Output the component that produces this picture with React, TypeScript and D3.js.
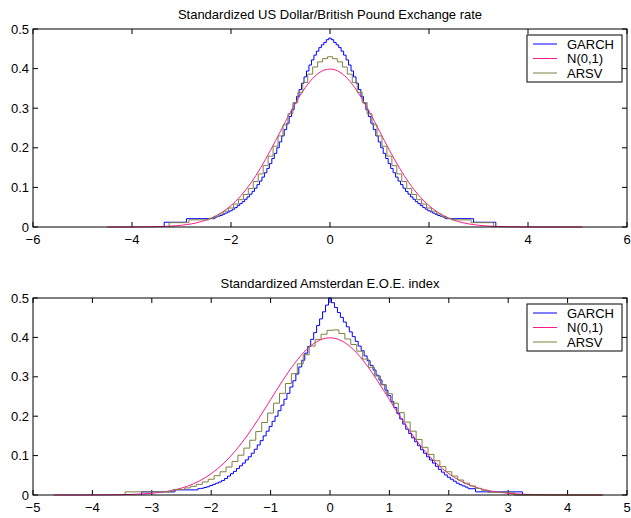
import React from "react";
import * as d3 from "d3";

// ---------- helpers for uniform bin grids ----------
const grid = (a: number, n: number, step = 0.1) =>
  d3.range(n).map((i) => +(a + i * step).toFixed(3));

// ---------- TOP PANEL DATA ----------
const topTitle = "Standardized US Dollar/British Pound Exchange rate";
const topXTicks = [-6, -4, -2, 0, 2, 4, 6];
const topYTicks = [0, 0.1, 0.2, 0.3, 0.4, 0.5];

const topGarchEdges = [-3.35, -2.9, ...grid(-2.325, 94, 0.05), 2.9, 3.35];
const topGarchVals = [
  0.012, 0.021,
  0.025, 0.027, 0.029, 0.032, 0.035, 0.038, 0.041, 0.045, 0.049, 0.054, 0.059, 0.064,
  0.070, 0.076, 0.083, 0.090, 0.098, 0.107, 0.116, 0.126, 0.137, 0.148, 0.160, 0.173,
  0.186, 0.200, 0.215, 0.230, 0.246, 0.262, 0.279, 0.296, 0.313, 0.330, 0.347, 0.363,
  0.379, 0.394, 0.409, 0.422, 0.434, 0.444, 0.453, 0.460, 0.466, 0.473,
  0.477,
  0.473, 0.466, 0.460, 0.453, 0.444, 0.434, 0.422, 0.409, 0.394, 0.379, 0.363, 0.347,
  0.330, 0.313, 0.296, 0.279, 0.262, 0.246, 0.230, 0.215, 0.200, 0.186, 0.173, 0.160,
  0.148, 0.137, 0.126, 0.116, 0.107, 0.098, 0.090, 0.083, 0.076, 0.070, 0.064, 0.059,
  0.054, 0.049, 0.045, 0.041, 0.038, 0.035, 0.032, 0.029, 0.027, 0.025,
  0.021, 0.012,
];

const topArsvEdges = [-3.25, -2.85, ...grid(-2.45, 50), 2.85, 3.3];
const topArsvVals = [
  0.011, 0.018,
  0.022, 0.027, 0.033, 0.040, 0.048, 0.058, 0.069, 0.082, 0.097, 0.115, 0.134, 0.155,
  0.179, 0.204, 0.230, 0.258, 0.286, 0.314, 0.340, 0.365, 0.386, 0.404, 0.417, 0.425,
  0.430,
  0.425, 0.417, 0.404, 0.386, 0.365, 0.340, 0.314, 0.286, 0.258, 0.230, 0.204, 0.179,
  0.155, 0.134, 0.115, 0.097, 0.082, 0.069, 0.058, 0.048, 0.040, 0.033, 0.027, 0.022,
  0.018, 0.011,
];

const normCoreX = grid(-3.0, 61);
const normCoreY = [
  0.0044, 0.0060, 0.0079, 0.0104, 0.0136, 0.0175, 0.0224, 0.0283, 0.0355, 0.0440,
  0.0540, 0.0656, 0.0790, 0.0940, 0.1109, 0.1295, 0.1497, 0.1714, 0.1942, 0.2179,
  0.2420, 0.2661, 0.2897, 0.3123, 0.3332, 0.3521, 0.3683, 0.3814, 0.3910, 0.3970,
  0.3989,
  0.3970, 0.3910, 0.3814, 0.3683, 0.3521, 0.3332, 0.3123, 0.2897, 0.2661, 0.2420,
  0.2179, 0.1942, 0.1714, 0.1497, 0.1295, 0.1109, 0.0940, 0.0790, 0.0656, 0.0540,
  0.0440, 0.0355, 0.0283, 0.0224, 0.0175, 0.0136, 0.0104, 0.0079, 0.0060, 0.0044,
];
const topNormX = [-4.5, -4.0, -3.6, -3.3, ...normCoreX, 3.3, 3.6, 4.0, 4.5, 5.1];
const topNormY = [0, 0.0001, 0.0006, 0.0017, ...normCoreY, 0.0017, 0.0006, 0.0001, 0, 0];

// ---------- BOTTOM PANEL DATA ----------
const botTitle = "Standardized Amsterdan E.O.E. index";
const botXTicks = [-5, -4, -3, -2, -1, 0, 1, 2, 3, 4, 5];
const botYTicks = [0, 0.1, 0.2, 0.3, 0.4, 0.5];

const botGarchEdges = [-3.17, -2.61, ...grid(-2.225, 92, 0.05), 2.45, 3.24];
const botGarchVals = [
  0.008, 0.013,
  0.016, 0.017, 0.019, 0.021, 0.024, 0.027, 0.030, 0.033, 0.037, 0.042, 0.048, 0.054,
  0.060, 0.067, 0.074, 0.081, 0.089, 0.097, 0.106, 0.116, 0.127, 0.138, 0.150, 0.162,
  0.174, 0.187, 0.200, 0.214, 0.228, 0.243, 0.258, 0.274, 0.290, 0.307, 0.325, 0.342,
  0.360, 0.377, 0.395, 0.412, 0.430, 0.447, 0.465, 0.482,
  0.500,
  0.488, 0.476, 0.463, 0.451, 0.439, 0.427, 0.414, 0.402, 0.390, 0.378,
  0.366, 0.353, 0.341, 0.329, 0.317, 0.304, 0.292, 0.280, 0.266, 0.252,
  0.237, 0.222, 0.207, 0.193, 0.180, 0.167, 0.156, 0.145, 0.135, 0.125,
  0.115, 0.106, 0.097, 0.089, 0.081, 0.073, 0.065, 0.058, 0.051, 0.045,
  0.040, 0.035, 0.030, 0.026, 0.023, 0.020,
  0.016, 0.008,
];

const botArsvEdges = [-3.45, -2.64, ...grid(-2.45, 52), 3.1, 4.58];
const botArsvVals = [
  0.008, 0.014,
  0.018, 0.022, 0.027, 0.033, 0.040, 0.049, 0.059, 0.071, 0.085, 0.101, 0.119, 0.139,
  0.161, 0.184, 0.208, 0.233, 0.258, 0.283, 0.308, 0.333, 0.356, 0.378, 0.395, 0.408,
  0.418,
  0.419, 0.410, 0.396, 0.382, 0.365, 0.345, 0.324, 0.302, 0.280, 0.257, 0.233, 0.209,
  0.185, 0.162, 0.141, 0.121, 0.103, 0.087, 0.072, 0.059, 0.048, 0.038, 0.030, 0.023,
  0.017, 0.012,
  0.007, 0,
];

const botNormX = [-4.65, -4.0, -3.6, -3.3, ...normCoreX, 3.3, 3.6, 4.0, 4.6];
const botNormY = [0, 0.0001, 0.0006, 0.0017, ...normCoreY, 0.0017, 0.0006, 0.0001, 0];

const legendLabels = ["GARCH", "N(0,1)", "ARSV"];

// ---------- STYLE ----------
const C_GARCH = "#0000ff";
const C_NORM = "#ff1a8c";
const C_ARSV = "#808040";
const FONT = "'Liberation Sans', Arial, Helvetica, sans-serif";
const FS = 13;

const fmt = (v: number) => (v < 0 ? "\u2212" + Math.abs(v) : String(v));

type PanelProps = {
  title: string;
  xDomain: [number, number];
  xTicks: number[];
  yTicks: number[];
  top: number;
  bottom: number;
  garch: { edges: number[]; vals: number[] };
  arsv: { edges: number[]; vals: number[] };
  norm: { x: number[]; y: number[] };
};

const LEFT = 33;
const RIGHT = 627;

function stairPath(edges: number[], vals: number[], x: any, y: any) {
  const pts: [number, number][] = [[edges[0], 0]];
  vals.forEach((v, i) => pts.push([edges[i], v]));
  pts.push([edges[edges.length - 1], vals[vals.length - 1]]);
  pts.push([edges[edges.length - 1], 0]);
  return d3
    .line<[number, number]>()
    .x((d) => x(d[0]))
    .y((d) => y(d[1]))
    .curve(d3.curveStepAfter)(pts) as string;
}

function Panel(p: PanelProps) {
  const x = d3.scaleLinear().domain(p.xDomain).range([LEFT, RIGHT]);
  const y = d3.scaleLinear().domain([0, 0.5]).range([p.bottom, p.top]);
  const normLine = d3
    .line<number>()
    .x((_, i) => x(p.norm.x[i]))
    .y((d) => y(d))
    .curve(d3.curveMonotoneX)(p.norm.y) as string;
  const tl = 5;
  const lgX = 527,
    lgY = p.top + 6,
    lgW = 95,
    lgH = 47;
  const colors = [C_GARCH, C_NORM, C_ARSV];
  return (
    <g>
      <text x={(LEFT + RIGHT) / 2} y={p.top - 10} textAnchor="middle" fontSize={FS} fontFamily={FONT}>
        {p.title}
      </text>
      <rect x={LEFT} y={p.top} width={RIGHT - LEFT} height={p.bottom - p.top} fill="#fff" stroke="none" />
      {p.xTicks.map((t) => (
        <g key={"x" + t}>
          <line x1={x(t)} x2={x(t)} y1={p.bottom} y2={p.bottom - tl} stroke="#000" />
          <line x1={x(t)} x2={x(t)} y1={p.top} y2={p.top + tl} stroke="#000" />
          <text x={x(t)} y={p.bottom + 17} textAnchor="middle" fontSize={FS} fontFamily={FONT}>
            {fmt(t)}
          </text>
        </g>
      ))}
      {p.yTicks.map((t) => (
        <g key={"y" + t}>
          <line x1={LEFT} x2={LEFT + tl} y1={y(t)} y2={y(t)} stroke="#000" />
          <line x1={RIGHT} x2={RIGHT - tl} y1={y(t)} y2={y(t)} stroke="#000" />
          <text x={LEFT - 4} y={y(t) + 4.5} textAnchor="end" fontSize={FS} fontFamily={FONT}>
            {String(t)}
          </text>
        </g>
      ))}
      <path d={stairPath(p.garch.edges, p.garch.vals, x, y)} fill="none" stroke={C_GARCH} strokeWidth={1} />
      <path d={normLine} fill="none" stroke={C_NORM} strokeWidth={1} />
      <path d={stairPath(p.arsv.edges, p.arsv.vals, x, y)} fill="none" stroke={C_ARSV} strokeWidth={1} />
      <rect x={LEFT} y={p.top} width={RIGHT - LEFT} height={p.bottom - p.top} fill="none" stroke="#000" strokeWidth={1} />
      <rect x={lgX} y={lgY} width={lgW} height={lgH} fill="#fff" stroke="#000" strokeWidth={1} />
      {legendLabels.map((lab, i) => (
        <g key={lab}>
          <line x1={lgX + 6} x2={lgX + 30} y1={lgY + 9 + i * 14.5} y2={lgY + 9 + i * 14.5} stroke={colors[i]} />
          <text x={lgX + 40} y={lgY + 13.5 + i * 14.5} fontSize={FS} fontFamily={FONT}>
            {lab}
          </text>
        </g>
      ))}
    </g>
  );
}

export default function App() {
  return (
    <svg width={631} height={518} style={{ position: "fixed", left: 0, top: 0, background: "#fff" }}>
      <rect width={631} height={518} fill="#fff" />
      <Panel
        title={topTitle}
        xDomain={[-6, 6]}
        xTicks={topXTicks}
        yTicks={topYTicks}
        top={29}
        bottom={227}
        garch={{ edges: topGarchEdges, vals: topGarchVals }}
        arsv={{ edges: topArsvEdges, vals: topArsvVals }}
        norm={{ x: topNormX, y: topNormY }}
      />
      <Panel
        title={botTitle}
        xDomain={[-5, 5]}
        xTicks={botXTicks}
        yTicks={botYTicks}
        top={298}
        bottom={495}
        garch={{ edges: botGarchEdges, vals: botGarchVals }}
        arsv={{ edges: botArsvEdges, vals: botArsvVals }}
        norm={{ x: botNormX, y: botNormY }}
      />
    </svg>
  );
}
